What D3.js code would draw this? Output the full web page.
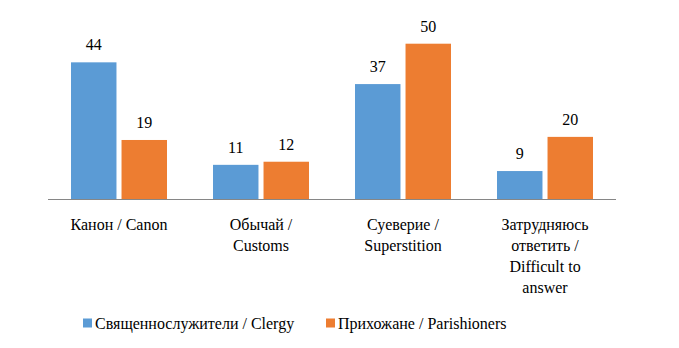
<!DOCTYPE html>
<html><head><meta charset="utf-8">
<script src="https://cdn.jsdelivr.net/npm/d3@7"></script>
<style>body{margin:0;background:#fff}svg{display:block}svg text, svg tspan{font-family:"Liberation Serif","Times New Roman",serif !important}</style>
</head><body>
<script>
const categories = [["Канон / Canon"], ["Обычай /", "Customs"], ["Суеверие /", "Superstition"], ["Затрудняюсь", "ответить /", "Difficult to", "answer"]];
const seriesNames = ["Священнослужители / Clergy", "Прихожане / Parishioners"];
const clergy = [44, 11, 37, 9];
const parishioners = [19, 12, 50, 20];
const colors = ["#5b9bd5", "#ed7d31"];

const FONT = "'Liberation Serif', 'Times New Roman', serif";
const W = 679, H = 348;
const svg = d3.select("body").append("svg").attr("width", W).attr("height", H);
const x0 = d3.scaleBand().domain(d3.range(categories.length)).range([48, 616]).paddingInner(0.324).paddingOuter(0.162);
const x1 = d3.scaleBand().domain([0, 1]).range([0, x0.bandwidth()]).paddingInner(0.1);
const y = d3.scaleLinear().domain([0, 50]).range([199, 43.7]);
const series = [clergy, parishioners];

function txt(sel) { return sel.style("font-family", FONT, "important").attr("font-family", FONT).attr("fill", "#000"); }

series.forEach((vals, s) => {
  const g = svg.append("g");
  g.selectAll("rect").data(vals).join("rect")
    .attr("x", (d, i) => x0(i) + x1(s))
    .attr("y", d => y(d))
    .attr("width", x1.bandwidth())
    .attr("height", d => y(0) - y(d))
    .attr("fill", colors[s]);
  txt(g.selectAll("text").data(vals).join("text"))
    .attr("x", (d, i) => x0(i) + x1(s) + x1.bandwidth() / 2)
    .attr("y", d => y(d) - 12)
    .attr("text-anchor", "middle")
    .attr("font-size", 16)
    .text(d => d);
});

svg.append("line").attr("x1", 48).attr("x2", 616).attr("y1", y(0) + 0.5).attr("y2", y(0) + 0.5)
  .attr("stroke", "#868686").attr("stroke-width", 1);

categories.forEach((lines, i) => {
  const t = txt(svg.append("text")).attr("text-anchor", "middle").attr("font-size", 16);
  lines.forEach((l, j) => txt(t.append("tspan")).attr("x", x0(i) + x0.bandwidth() / 2).attr("y", 229.5 + j * 21).text(l));
});

const legX = [83, 326];
seriesNames.forEach((n, s) => {
  svg.append("rect").attr("x", legX[s]).attr("y", 318.5).attr("width", 9).attr("height", 9).attr("fill", colors[s]);
  txt(svg.append("text")).attr("x", legX[s] + 12).attr("y", 328.5).attr("font-size", 16).text(n);
});
</script>
</body></html>
